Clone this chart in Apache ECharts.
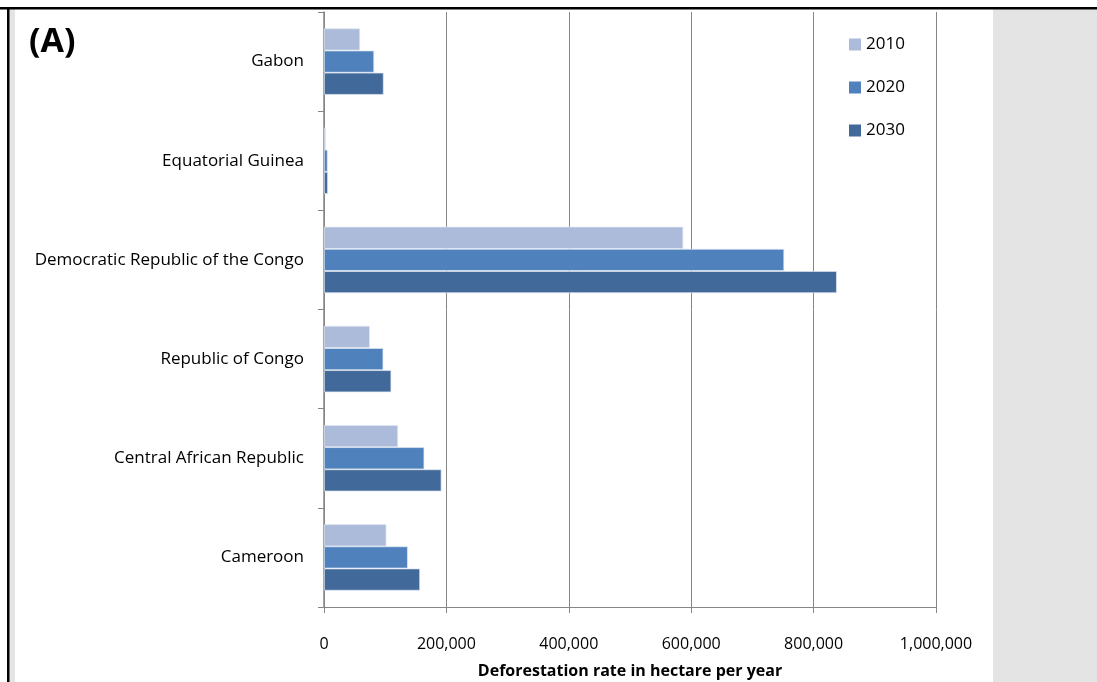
<!DOCTYPE html>
<html>
<head>
<meta charset="utf-8">
<script src="https://cdn.jsdelivr.net/npm/echarts@6/dist/echarts.min.js"></script>
<style>
  html, body { margin: 0; padding: 0; background: #ffffff; }
  #chart { width: 1097px; height: 682px; }
</style>
</head>
<body>
<div id="chart"></div>
<script>
// Countries, listed top to bottom
const countries = [
  'Gabon',
  'Equatorial Guinea',
  'Democratic Republic of the Congo',
  'Republic of Congo',
  'Central African Republic',
  'Cameroon'
];

// Deforestation rate (hectare per year) by scenario year
const rate2010 = [59000, 3000, 587000, 75000, 121000, 102000];
const rate2020 = [82000, 6000, 752000, 97000, 164000, 137000];
const rate2030 = [97500, 6500, 838000, 110000, 192000, 157000];

const seriesNames = ['2010', '2020', '2030'];
const xTicks = { min: 0, max: 1000000, step: 200000 };

const font = '"Open Sans", "Noto Sans", "Liberation Sans", sans-serif';
const colors = ['#abbbd9', '#4f81bd', '#41699a'];
const gridColor = '#868686';

const chart = echarts.init(document.getElementById('chart'), null, { renderer: 'canvas' });

function fmt(v) {
  return v.toString().replace(/\B(?=(\d{3})+(?!\d))/g, ',');
}

const values = [rate2010, rate2020, rate2030];

chart.setOption({
  animation: false,
  backgroundColor: '#ffffff',
  textStyle: { fontFamily: font },
  graphic: [
    // outer frame: black rule along top and left, grey margins
    { type: 'rect', shape: { x: 9, y: 9, width: 6, height: 673 }, style: { fill: '#e4e4e4' }, silent: true },
    { type: 'rect', shape: { x: 993, y: 9, width: 104, height: 673 }, style: { fill: '#e4e4e4' }, silent: true },
    { type: 'rect', shape: { x: 0, y: 7, width: 1097, height: 2.5 }, style: { fill: '#000000' }, silent: true },
    { type: 'rect', shape: { x: 7, y: 7, width: 2.5, height: 675 }, style: { fill: '#000000' }, silent: true },
    {
      type: 'text', left: 29, top: 25,
      style: { text: '(A)', font: 'bold 34px ' + font, fill: '#000000' },
      silent: true
    }
  ],
  legend: {
    orient: 'vertical',
    left: 849,
    top: 34,
    padding: 0,
    itemWidth: 12,
    itemHeight: 12,
    itemGap: 22,
    icon: 'rect',
    data: seriesNames,
    itemStyle: { borderWidth: 0 },
    textStyle: { fontFamily: font, fontSize: 17, lineHeight: 21, color: '#000000' }
  },
  grid: {
    left: 324, right: 161, top: 12, bottom: 75,
    containLabel: false,
    outerBoundsMode: 'none'
  },
  xAxis: {
    type: 'value',
    min: xTicks.min,
    max: xTicks.max,
    interval: xTicks.step,
    name: 'Deforestation rate in hectare per year',
    nameLocation: 'middle',
    nameGap: 56,
    nameTextStyle: { fontFamily: font, fontSize: 16, fontWeight: 'bold', color: '#000000' },
    axisLine: { show: true, lineStyle: { color: gridColor, width: 1 } },
    axisTick: { show: true, inside: false, length: 6, lineStyle: { color: gridColor } },
    axisLabel: {
      fontFamily: font, fontSize: 16, color: '#000000', margin: 29,
      formatter: fmt
    },
    splitLine: { show: true, lineStyle: { color: gridColor, width: 1 } }
  },
  yAxis: {
    type: 'category',
    inverse: true,
    data: countries,
    axisLine: { show: true, lineStyle: { color: gridColor, width: 1.5 } },
    axisTick: { show: true, length: 6, lineStyle: { color: gridColor } },
    axisLabel: { fontFamily: font, fontSize: 17, color: '#000000', margin: 20 },
    splitLine: { show: false }
  },
  series: seriesNames.map((name, i) => ({
    name: name,
    type: 'bar',
    data: values[i],
    barGap: '0%',
    barCategoryGap: '33%',
    itemStyle: { color: colors[i], borderColor: 'rgba(225,232,242,0.9)', borderWidth: 0.8 }
  }))
});
</script>
</body>
</html>
